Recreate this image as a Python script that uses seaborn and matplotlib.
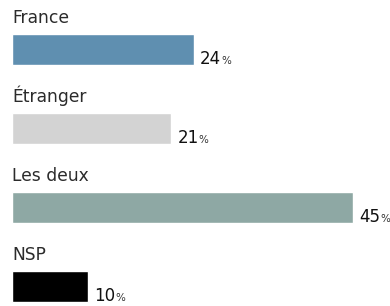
import seaborn as sns
import matplotlib.pyplot as plt
import pandas as pd

# data
categories = ['France', 'Étranger', 'Les deux', 'NSP']
values = [24, 21, 45, 10]
colors = ['#5f8fb0', '#d3d3d3', '#8ea8a4', '#000000']

df = pd.DataFrame({'cat': categories, 'val': values})

sns.set_style('white')
plt.rcParams['font.family'] = ['DejaVu Sans']

fig = plt.figure(figsize=(3.9, 3.06), dpi=100)
ax = fig.add_axes([0, 0, 1, 1])

sns.barplot(data=df, x='val', y='cat', hue='cat', palette=colors,
            legend=False, width=0.392, orient='h', saturation=1, ax=ax)

# 0 sits 12.5px from the left edge, 45 ends at ~353px
px = 340.5 / 45
ax.set_xlim(-12.5 / px, (390 - 12.5) / px)
ax.set_ylim((306 - 49.5) / 79, -49.5 / 79)
ax.axis('off')

# category label above each bar
for i, cat in enumerate(categories):
    ax.text(0, i - 0.335, cat, fontsize=12.3, color='#2b2b2b', va='baseline', ha='left')

# value labels: number + small percent sign
nums = []
for i, v in enumerate(values):
    t = ax.text(v + 6 / px, i + 0.18, str(v), fontsize=12, color='#111111',
                va='baseline', ha='left')
    nums.append(t)

fig.canvas.draw()
for i, t in enumerate(nums):
    bb = t.get_window_extent()
    xd = ax.transData.inverted().transform((bb.x1, 0))[0]
    ax.text(xd, i + 0.18, '%', fontsize=7.5, color='#333333', va='baseline', ha='left')

fig.savefig('out.png', dpi=100)
